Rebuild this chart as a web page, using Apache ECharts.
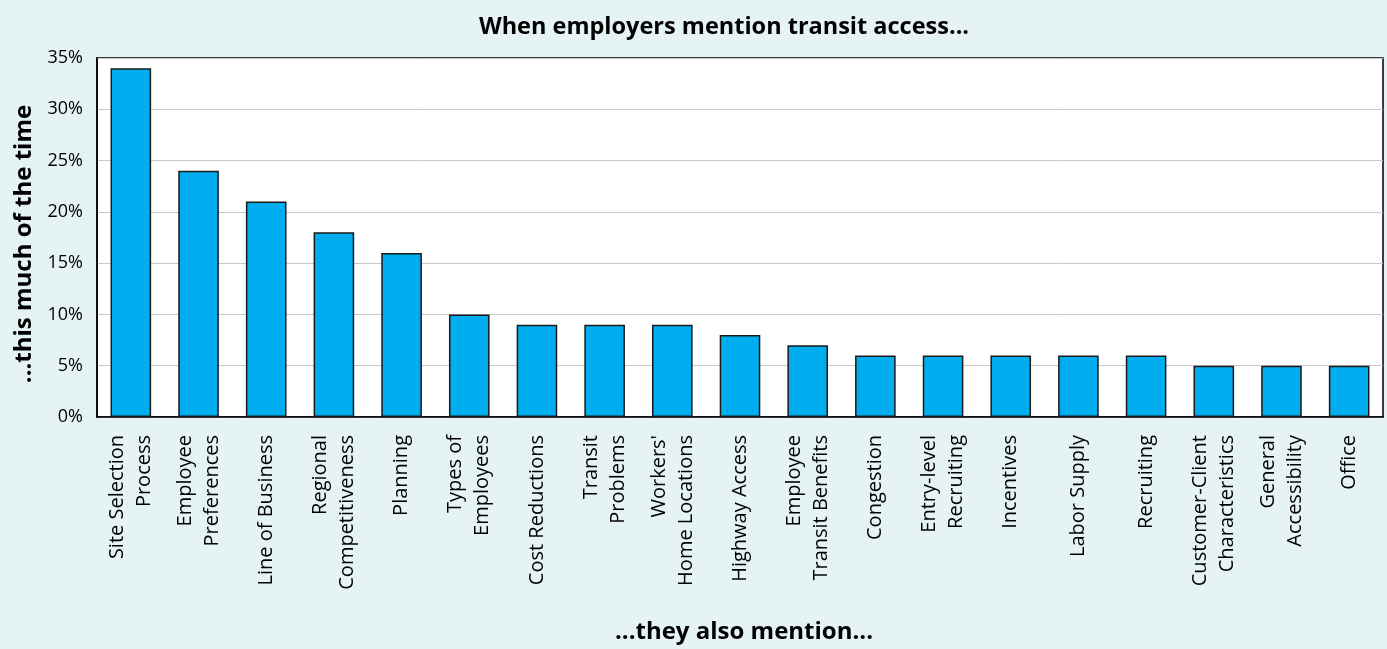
<!DOCTYPE html>
<html><head><meta charset="utf-8">
<script src="https://cdn.jsdelivr.net/npm/echarts@6/dist/echarts.min.js"></script>
<style>html,body{margin:0;padding:0;background:#E6F3F5;}#c{width:1387px;height:649px;}</style>
</head><body><div id="c"></div>
<script>
const titleText = "When employers mention transit access...";
const xAxisName = "...they also mention...";
const yAxisName = "...this much of the time";
const categories = ["Site Selection\nProcess","Employee\nPreferences","Line of Business","Regional\nCompetitiveness","Planning","Types of\nEmployees","Cost Reductions","Transit\nProblems","Workers'\nHome Locations","Highway Access","Employee\nTransit Benefits","Congestion","Entry-level\nRecruiting","Incentives","Labor Supply","Recruiting","Customer-Client\nCharacteristics","General\nAccessibility","Office"];
const values = [34,24,21,18,16,10,9,9,9,8,7,6,6,6,6,6,5,5,5];

const font = "'Open Sans', 'Noto Sans', sans-serif";
const chart = echarts.init(document.getElementById('c'));
chart.setOption({
  backgroundColor: '#E6F3F5',
  animation: false,
  title: {
    text: titleText, left: 719, top: 10, textAlign: 'center',
    textStyle: {fontFamily: font, fontWeight: 'bold', fontSize: 23.5, color: '#000'}
  },
  grid: {left: 97, right: 4, top: 58, height: 359, outerBoundsMode: 'none', containLabel: false,
         show: true, backgroundColor: '#fff', borderColor: '#000', borderWidth: 1.5},
  xAxis: {
    type: 'category', data: categories,
    name: xAxisName, nameLocation: 'middle', nameGap: 203,
    nameTextStyle: {fontFamily: font, fontWeight: 'bold', fontSize: 24, color: '#000', padding: [0, 0, 0, 8]},
    axisLine: {lineStyle: {color: '#000', width: 1.5}},
    axisTick: {show: false},
    axisLabel: {rotate: 90, interval: 0, fontFamily: font, fontSize: 20, color: '#000', lineHeight: 27, margin: 18}
  },
  yAxis: {
    type: 'value', min: 0, max: 35, interval: 5,
    name: yAxisName, nameLocation: 'middle', nameGap: 56, nameRotate: 90,
    nameTextStyle: {fontFamily: font, fontWeight: 'bold', fontSize: 24, color: '#000', padding: [0, 13, 0, 0]},
    axisLine: {show: true, lineStyle: {color: '#000', width: 1.5}},
    axisTick: {show: false},
    axisLabel: {formatter: '{value}%', fontFamily: font, fontSize: 18, color: '#000', margin: 14},
    splitLine: {lineStyle: {color: '#c8c8c8', width: 1}}
  },
  series: [{
    type: 'bar', data: values, barWidth: '60%',
    itemStyle: {color: '#00AEEF', borderColor: '#1a1a1a', borderWidth: 1.5}
  }]
});
</script></body></html>
